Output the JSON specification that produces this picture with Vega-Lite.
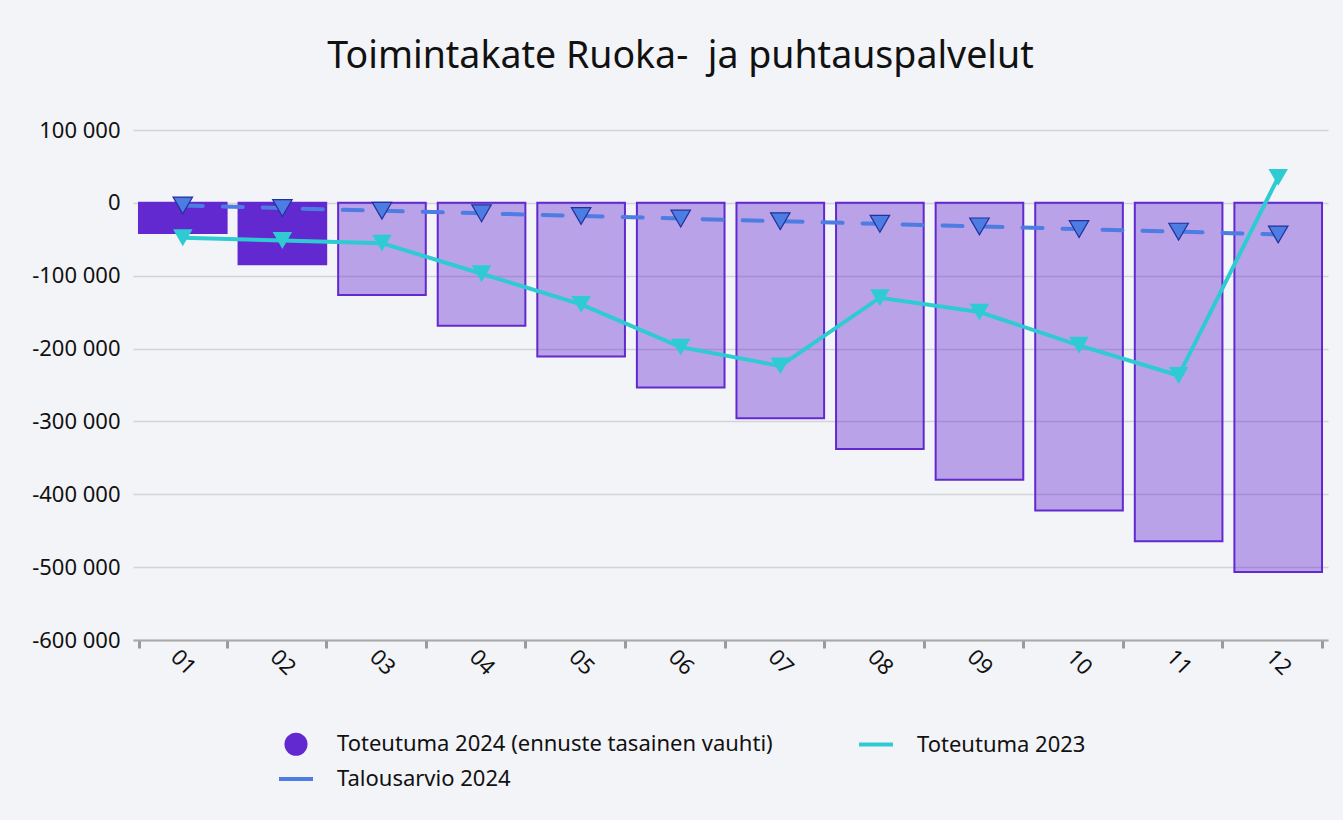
{
  "$schema": "https://vega.github.io/schema/vega-lite/v6.json",
  "width": 1195,
  "height": 510,
  "autosize": {"type": "none"},
  "padding": {"left": 133, "top": 130, "right": 15, "bottom": 180},
  "background": "#f3f4f8",
  "title": {
    "text": "Toimintakate Ruoka-\u00a0 ja puhtauspalvelut",
    "frame": "group",
    "anchor": "middle",
    "dx": -50,
    "offset": 14,
    "baseline": "alphabetic",
    "font": "Noto Sans",
    "fontSize": 37.5,
    "fontWeight": "normal",
    "color": "#111111"
  },
  "config": {
    "view": {"stroke": null},
    "font": "Noto Sans",
    "axis": {"labelFont": "Noto Sans", "labelColor": "#111111"},
    "legend": {"labelFont": "Noto Sans"}
  },
  "data": {
    "values": [
      {"kk": "01", "sarja": "Toteutuma 2024 (ennuste tasainen vauhti)", "tyyppi": "toteutuma", "arvo": -41500},
      {"kk": "02", "sarja": "Toteutuma 2024 (ennuste tasainen vauhti)", "tyyppi": "toteutuma", "arvo": -84200},
      {"kk": "03", "sarja": "Toteutuma 2024 (ennuste tasainen vauhti)", "tyyppi": "ennuste", "arvo": -126500},
      {"kk": "04", "sarja": "Toteutuma 2024 (ennuste tasainen vauhti)", "tyyppi": "ennuste", "arvo": -168800},
      {"kk": "05", "sarja": "Toteutuma 2024 (ennuste tasainen vauhti)", "tyyppi": "ennuste", "arvo": -211000},
      {"kk": "06", "sarja": "Toteutuma 2024 (ennuste tasainen vauhti)", "tyyppi": "ennuste", "arvo": -253300},
      {"kk": "07", "sarja": "Toteutuma 2024 (ennuste tasainen vauhti)", "tyyppi": "ennuste", "arvo": -295500},
      {"kk": "08", "sarja": "Toteutuma 2024 (ennuste tasainen vauhti)", "tyyppi": "ennuste", "arvo": -337800},
      {"kk": "09", "sarja": "Toteutuma 2024 (ennuste tasainen vauhti)", "tyyppi": "ennuste", "arvo": -380000},
      {"kk": "10", "sarja": "Toteutuma 2024 (ennuste tasainen vauhti)", "tyyppi": "ennuste", "arvo": -422300},
      {"kk": "11", "sarja": "Toteutuma 2024 (ennuste tasainen vauhti)", "tyyppi": "ennuste", "arvo": -464600},
      {"kk": "12", "sarja": "Toteutuma 2024 (ennuste tasainen vauhti)", "tyyppi": "ennuste", "arvo": -506800},
      {"kk": "01", "sarja": "Talousarvio 2024", "tyyppi": "budjetti", "arvo": -3600},
      {"kk": "02", "sarja": "Talousarvio 2024", "tyyppi": "budjetti", "arvo": -7200},
      {"kk": "03", "sarja": "Talousarvio 2024", "tyyppi": "budjetti", "arvo": -10800},
      {"kk": "04", "sarja": "Talousarvio 2024", "tyyppi": "budjetti", "arvo": -14400},
      {"kk": "05", "sarja": "Talousarvio 2024", "tyyppi": "budjetti", "arvo": -18000},
      {"kk": "06", "sarja": "Talousarvio 2024", "tyyppi": "budjetti", "arvo": -21600},
      {"kk": "07", "sarja": "Talousarvio 2024", "tyyppi": "budjetti", "arvo": -25200},
      {"kk": "08", "sarja": "Talousarvio 2024", "tyyppi": "budjetti", "arvo": -28800},
      {"kk": "09", "sarja": "Talousarvio 2024", "tyyppi": "budjetti", "arvo": -32400},
      {"kk": "10", "sarja": "Talousarvio 2024", "tyyppi": "budjetti", "arvo": -36000},
      {"kk": "11", "sarja": "Talousarvio 2024", "tyyppi": "budjetti", "arvo": -39600},
      {"kk": "12", "sarja": "Talousarvio 2024", "tyyppi": "budjetti", "arvo": -43400},
      {"kk": "01", "sarja": "Toteutuma 2023", "tyyppi": "edellinen", "arvo": -47900},
      {"kk": "02", "sarja": "Toteutuma 2023", "tyyppi": "edellinen", "arvo": -51600},
      {"kk": "03", "sarja": "Toteutuma 2023", "tyyppi": "edellinen", "arvo": -55300},
      {"kk": "04", "sarja": "Toteutuma 2023", "tyyppi": "edellinen", "arvo": -97300},
      {"kk": "05", "sarja": "Toteutuma 2023", "tyyppi": "edellinen", "arvo": -139300},
      {"kk": "06", "sarja": "Toteutuma 2023", "tyyppi": "edellinen", "arvo": -198000},
      {"kk": "07", "sarja": "Toteutuma 2023", "tyyppi": "edellinen", "arvo": -223800},
      {"kk": "08", "sarja": "Toteutuma 2023", "tyyppi": "edellinen", "arvo": -130200},
      {"kk": "09", "sarja": "Toteutuma 2023", "tyyppi": "edellinen", "arvo": -149900},
      {"kk": "10", "sarja": "Toteutuma 2023", "tyyppi": "edellinen", "arvo": -195500},
      {"kk": "11", "sarja": "Toteutuma 2023", "tyyppi": "edellinen", "arvo": -237000},
      {"kk": "12", "sarja": "Toteutuma 2023", "tyyppi": "edellinen", "arvo": 35000}
    ]
  },
  "encoding": {
    "x": {
      "field": "kk",
      "type": "ordinal",
      "title": null,
      "scale": {"paddingInner": 0.12, "paddingOuter": 0.06},
      "axis": {
        "labelAngle": 45,
        "labelAlign": "center",
        "labelBaseline": "middle",
        "labelFontSize": 22,
        "labelPadding": 14,
        "tickBand": "extent",
        "tickSize": 8,
        "tickWidth": 3,
        "tickColor": "#9a9a9a",
        "domainColor": "#a8a8a8",
        "domainWidth": 2,
        "grid": false
      }
    },
    "y": {
      "field": "arvo",
      "type": "quantitative",
      "title": null,
      "scale": {"domain": [-600000, 100000], "nice": false, "zero": false},
      "axis": {
        "values": [100000, 0, -100000, -200000, -300000, -400000, -500000, -600000],
        "labelExpr": "(datum.value < 0 ? '-' : '') + replace(format(abs(datum.value), ','), regexp(',', 'g'), ' ')",
        "labelFontSize": 22,
        "labelPadding": 13,
        "ticks": false,
        "domain": false,
        "grid": true,
        "gridColor": "#d2d2d8",
        "gridWidth": 1.5
      }
    },
    "color": {
      "field": "sarja",
      "type": "nominal",
      "title": null,
      "scale": {
        "domain": ["Toteutuma 2024 (ennuste tasainen vauhti)", "Talousarvio 2024", "Toteutuma 2023"],
        "range": ["#6229d0", "#4d7ce2", "#2ecbd2"]
      },
      "legend": {
        "orient": "none",
        "legendX": 152,
        "legendY": 603,
        "direction": "vertical",
        "columns": 2,
        "columnPadding": 78,
        "rowPadding": 12,
        "labelFontSize": 22,
        "labelColor": "#111111",
        "labelOffset": 30,
        "labelLimit": 600,
        "symbolSize": 1156,
        "symbolType": "stroke",
        "symbolStrokeWidth": 4,
        "encode": {
          "symbols": {
            "update": {
              "shape": {"signal": "datum.value === 'Toteutuma 2024 (ennuste tasainen vauhti)' ? 'circle' : 'stroke'"},
              "size": {"signal": "datum.value === 'Toteutuma 2024 (ennuste tasainen vauhti)' ? 529 : 1156"},
              "fill": {"signal": "datum.value === 'Toteutuma 2024 (ennuste tasainen vauhti)' ? '#6229d0' : 'transparent'"},
              "stroke": {"signal": "scale('color', datum.value)"},
              "strokeWidth": {"signal": "datum.value === 'Toteutuma 2024 (ennuste tasainen vauhti)' ? 0 : 4"},
              "strokeDash": {"value": [60, 0]},
              "opacity": {"value": 1}
            }
          }
        }
      }
    }
  },
  "layer": [
    {
      "transform": [{"filter": "datum.tyyppi === 'toteutuma' || datum.tyyppi === 'ennuste'"}],
      "mark": {"type": "bar", "stroke": "#6229d0", "strokeWidth": 2},
      "encoding": {
        "fillOpacity": {
          "condition": {"test": "datum.tyyppi === 'ennuste'", "value": 0.4},
          "value": 1
        }
      }
    },
    {
      "transform": [{"filter": "datum.tyyppi === 'budjetti'"}],
      "mark": {"type": "line", "strokeWidth": 4, "strokeDash": [20, 20], "strokeCap": "round"}
    },
    {
      "transform": [{"filter": "datum.tyyppi === 'budjetti'"}],
      "mark": {"type": "point", "shape": "triangle-down", "filled": true, "size": 380, "stroke": "#22319a", "strokeWidth": 1.2, "opacity": 1}
    },
    {
      "transform": [{"filter": "datum.tyyppi === 'edellinen'"}],
      "mark": {"type": "line", "strokeWidth": 4}
    },
    {
      "transform": [{"filter": "datum.tyyppi === 'edellinen'"}],
      "mark": {"type": "point", "shape": "triangle-down", "filled": true, "size": 380, "opacity": 1}
    }
  ]
}
